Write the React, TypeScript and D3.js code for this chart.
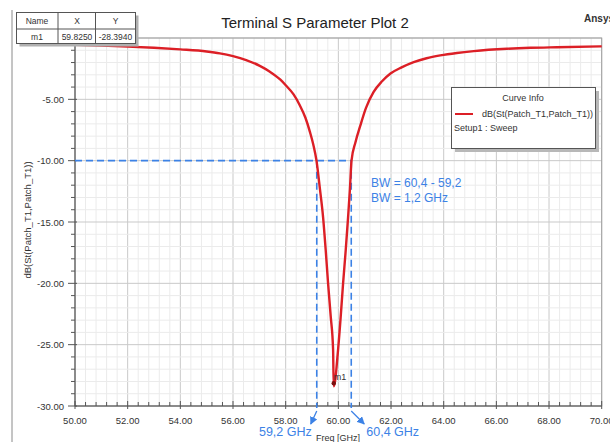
import React from 'react';
import * as d3 from 'd3';

// curve: frequency (GHz) and dB(S11)
const freqs = [
  50, 51, 52, 53, 54, 55, 55.5, 56, 56.5, 57, 57.4, 57.8, 58.0, 58.3, 58.54, 58.75, 58.92, 59.05,
  59.17, 59.3, 59.42, 59.52, 59.61, 59.71, 59.8, 59.825, 59.99, 60.09, 60.18, 60.28, 60.37, 60.44,
  60.5, 60.65, 60.84, 61.05, 61.34, 61.65, 61.98, 62.4, 62.86, 63.35, 63.87, 64.5, 65.14, 66.4,
  67.3, 68.3, 70
];
const s11 = [
  -0.55, -0.62, -0.7, -0.8, -0.93, -1.1, -1.25, -1.48, -1.8, -2.25, -2.75, -3.4, -3.85, -4.6, -5.5, -6.5, -7.65, -8.7,
  -10.0, -12.3, -14.6, -17.3, -20.0, -22.7, -25.4, -28.394, -25.4, -22.7, -20.0, -17.3, -14.6, -12.3,
  -10.0, -8.5, -7.1, -5.7, -4.4, -3.55, -2.9, -2.4, -1.97, -1.65, -1.42, -1.22, -1.07, -0.88,
  -0.8, -0.75, -0.68
];
const xTicks = [50, 52, 54, 56, 58, 60, 62, 64, 66, 68, 70];
// 0.00 sits under the marker table in the original, so it is not labelled
const yTicks = [-5, -10, -15, -20, -25, -30];
const marker = { name: 'm1', x: 59.825, y: -28.394 };
const bwEdges = [59.18, 60.49];
const bwLabels = ['59,2 GHz', '60,4 GHz'];
const bwLevel = -10;

const W = 610;
const H = 442;
const red = '#dc1f26';
const blue = '#3c82e6';
const font = 'Liberation Sans, Arial, sans-serif';

export default function App() {
  const x = d3.scaleLinear().domain([50, 70]).range([75, 601.7]);
  const y = d3.scaleLinear().domain([0, -30]).range([38, 406]);
  const pts: [number, number][] = freqs.map((f, i) => [f, s11[i]]);
  const line = d3.line<[number, number]>()
    .x((d) => x(d[0]))
    .y((d) => y(d[1]))
    .curve(d3.curveMonotoneX);

  const minorX = d3.range(50, 70.001, 0.4);
  const minorY = d3.range(0, -30.001, -1);
  const [x0, x1] = x.range();
  const [y0, y1] = y.range();

  const mx = x(marker.x);
  const my = y(marker.y);
  const yLev = y(bwLevel);

  return (
    <svg width={W} height={H} style={{ position: 'absolute', left: 0, top: 0, background: '#fff' }} fontFamily={font}>
      <rect width={W} height={H} fill='#fff' />
      {/* outer frame */}
      <line x1={12} x2={12} y1={10} y2={H} stroke='#8a8a8a' />

      {/* grid */}
      {minorX.map((v, i) => (
        <line key={'gx' + i} x1={x(v)} x2={x(v)} y1={y0} y2={y1}
          stroke={i % 5 === 0 ? '#c9c9c9' : '#ebebeb'} />
      ))}
      {minorY.map((v, i) => (
        <line key={'gy' + i} x1={x0} x2={x1} y1={y(v)} y2={y(v)}
          stroke={i % 5 === 0 ? '#c9c9c9' : '#ebebeb'} />
      ))}
      <rect x={x0} y={y0} width={x1 - x0} height={y1 - y0} fill='none' stroke='#a0a0a0' />

      {/* axes */}
      <line x1={x0} x2={x0} y1={y0} y2={y1} stroke='#555' />
      <line x1={x0} x2={x1} y1={y1} y2={y1} stroke='#555' />
      {minorX.map((v, i) => (
        <line key={'tx' + i} x1={x(v)} x2={x(v)} y1={y1 - (i % 5 === 0 ? 5 : 4)} y2={y1 + (i % 5 === 0 ? 3 : 0)} stroke='#555' />
      ))}
      {minorY.map((v, i) => (
        <line key={'ty' + i} x1={x0 - (i % 5 === 0 ? 7 : 4)} x2={x0 + (i % 5 === 0 ? 2 : 0)} y1={y(v)} y2={y(v)} stroke='#555' />
      ))}
      {xTicks.map((v) => (
        <text key={'lx' + v} x={x(v)} y={424} textAnchor='middle' fontSize={9.5} fill='#333'>{v.toFixed(2)}</text>
      ))}
      {yTicks.map((v) => (
        <text key={'ly' + v} x={64} y={y(v) + 3.5} textAnchor='end' fontSize={9.5} fill='#333'>{v.toFixed(2)}</text>
      ))}
      <text transform={`translate(31,220) rotate(-90)`} textAnchor='middle' fontSize={9.5} fill='#333'>dB(St(Patch_T1,Patch_T1))</text>
      <text x={338} y={441} textAnchor='middle' fontSize={9} fill='#333'>Freq [GHz]</text>

      {/* title */}
      <text x={315} y={28} textAnchor='middle' fontSize={15} fill='#222'>Terminal S Parameter Plot 2</text>
      <text x={584} y={22} fontSize={10} fontWeight='bold' fill='#333'>Ansys</text>

      {/* bandwidth guides */}
      <line x1={x0} x2={x(bwEdges[1])} y1={yLev} y2={yLev} stroke={blue} strokeWidth={1.6} strokeDasharray='7,4' />
      {bwEdges.map((e) => (
        <line key={'bw' + e} x1={x(e)} x2={x(e)} y1={yLev} y2={y1 + 2} stroke={blue} strokeWidth={1.6} strokeDasharray='7,4' />
      ))}
      <defs>
        <marker id='arr' viewBox='0 0 10 10' refX={9} refY={5} markerWidth={6} markerHeight={6} orient='auto'>
          <path d='M0,0 L10,5 L0,10 z' fill={blue} />
        </marker>
      </defs>
      <line x1={x(bwEdges[0])} y1={411} x2={x(bwEdges[0]) - 6} y2={424} stroke={blue} strokeWidth={1.3} markerEnd='url(#arr)' />
      <line x1={x(bwEdges[1])} y1={411} x2={x(bwEdges[1]) + 13} y2={424} stroke={blue} strokeWidth={1.3} markerEnd='url(#arr)' />
      <text x={x(bwEdges[0]) - 5} y={436} textAnchor='end' fontSize={12.5} fill={blue}>{bwLabels[0]}</text>
      <text x={x(bwEdges[1]) + 15} y={436} fontSize={12.5} fill={blue}>{bwLabels[1]}</text>
      <text x={371} y={187} fontSize={12} fill={blue}>BW = 60,4 - 59,2</text>
      <text x={371} y={202} fontSize={12} fill={blue}>BW = 1,2 GHz</text>

      {/* curve */}
      <path d={line(pts) || ''} fill='none' stroke={red} strokeWidth={2.4} />
      <circle cx={mx} cy={my - 3} r={2.2} fill='#7a1010' />
      <text x={mx} y={my - 6} fontSize={9} fill='#333'>{marker.name}</text>

      {/* legend */}
      <rect x={455} y={91} width={144} height={61} fill='#b8b8b8' />
      <rect x={451.5} y={87.5} width={144} height={61} fill='#fff' stroke='#555' />
      <text x={523} y={100.5} textAnchor='middle' fontSize={9} fill='#333'>Curve Info</text>
      <line x1={455} x2={473} y1={114} y2={114} stroke={red} strokeWidth={2} />
      <text x={482} y={117} fontSize={9} fill='#333'>dB(St(Patch_T1,Patch_T1))</text>
      <text x={454} y={130.5} fontSize={9} fill='#333'>Setup1 : Sweep</text>

      {/* marker table */}
      <rect x={19.5} y={15.5} width={119} height={31} fill='#b0b0b0' />
      <rect x={16.5} y={12.5} width={119} height={31} fill='#fff' stroke='#555' />
      <line x1={16.5} x2={135.5} y1={29} y2={29} stroke='#555' />
      <line x1={58} x2={58} y1={12.5} y2={43.5} stroke='#555' />
      <line x1={95.5} x2={95.5} y1={12.5} y2={43.5} stroke='#555' />
      <text x={37} y={24} textAnchor='middle' fontSize={8.5} fill='#333'>Name</text>
      <text x={77} y={24} textAnchor='middle' fontSize={8.5} fill='#333'>X</text>
      <text x={115.5} y={24} textAnchor='middle' fontSize={8.5} fill='#333'>Y</text>
      <text x={37} y={40} textAnchor='middle' fontSize={8.5} fill='#333'>{marker.name}</text>
      <text x={77} y={40} textAnchor='middle' fontSize={8.5} fill='#333'>{marker.x.toFixed(4)}</text>
      <text x={115.5} y={40} textAnchor='middle' fontSize={8.5} fill='#333'>{marker.y.toFixed(4)}</text>
    </svg>
  );
}
